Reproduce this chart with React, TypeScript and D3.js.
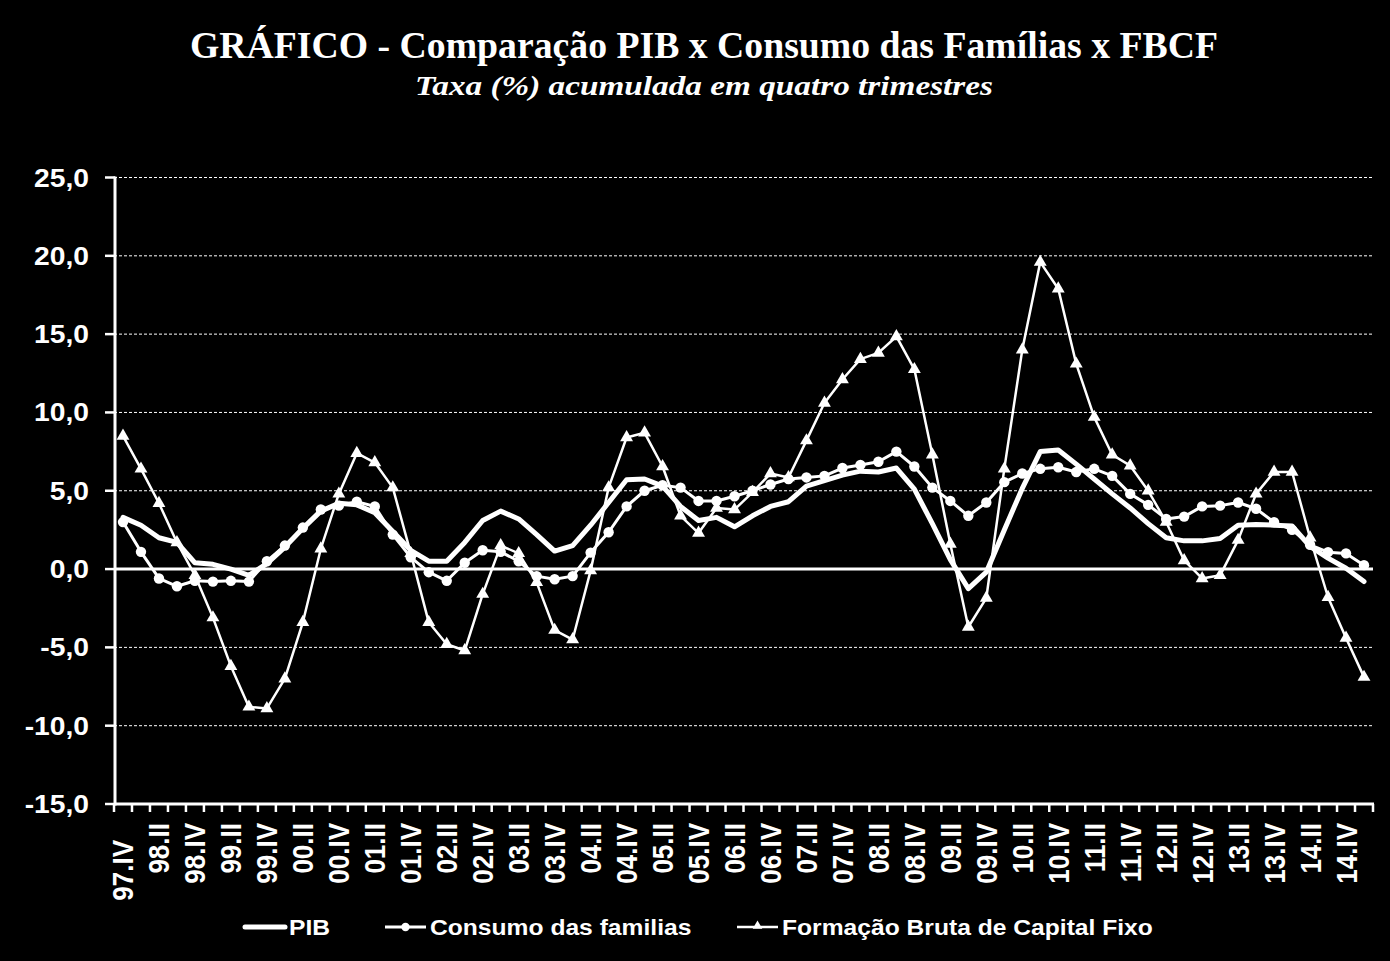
import React from 'react';
import * as d3 from 'd3';

const categories = [
  '97.IV',
  '98.I', '98.II', '98.III', '98.IV',
  '99.I', '99.II', '99.III', '99.IV',
  '00.I', '00.II', '00.III', '00.IV',
  '01.I', '01.II', '01.III', '01.IV',
  '02.I', '02.II', '02.III', '02.IV',
  '03.I', '03.II', '03.III', '03.IV',
  '04.I', '04.II', '04.III', '04.IV',
  '05.I', '05.II', '05.III', '05.IV',
  '06.I', '06.II', '06.III', '06.IV',
  '07.I', '07.II', '07.III', '07.IV',
  '08.I', '08.II', '08.III', '08.IV',
  '09.I', '09.II', '09.III', '09.IV',
  '10.I', '10.II', '10.III', '10.IV',
  '11.I', '11.II', '11.III', '11.IV',
  '12.I', '12.II', '12.III', '12.IV',
  '13.I', '13.II', '13.III', '13.IV',
  '14.I', '14.II', '14.III', '14.IV',
  '15.I',
];

const pib = [
  3.3,
  2.8, 2.0, 1.7, 0.4,
  0.3, 0.0, -0.4, 0.35,
  1.4, 2.6, 3.7, 4.2,
  4.1, 3.6, 2.4, 1.2,
  0.5, 0.5, 1.7, 3.1,
  3.7, 3.2, 2.2, 1.15,
  1.5, 2.8, 4.25, 5.7,
  5.75, 5.3, 4.0, 3.1,
  3.3, 2.7, 3.4, 4.0,
  4.3, 5.3, 5.65, 6.0,
  6.25, 6.2, 6.45, 5.1,
  2.9, 0.6, -1.25, -0.2,
  2.5, 5.15, 7.5, 7.6,
  6.7, 5.75, 4.8, 3.9,
  2.9, 2.0, 1.8, 1.8,
  1.95, 2.8, 2.85, 2.8,
  2.75, 1.45, 0.7, 0.05,
  -0.8,
];

const consumo = [
  3.0,
  1.1, -0.6, -1.1, -0.75,
  -0.8, -0.75, -0.8, 0.5,
  1.5, 2.65, 3.8, 4.05,
  4.3, 4.0, 2.2, 0.75,
  -0.2, -0.75, 0.4, 1.2,
  1.1, 0.5, -0.45, -0.65,
  -0.45, 1.05, 2.35, 4.0,
  5.0, 5.35, 5.2, 4.35,
  4.35, 4.65, 5.0, 5.4,
  5.75, 5.85, 5.95, 6.45,
  6.65, 6.85, 7.5, 6.55,
  5.2, 4.35, 3.4, 4.25,
  5.55, 6.1, 6.4, 6.5,
  6.2, 6.4, 5.95, 4.8,
  4.1, 3.2, 3.35, 4.0,
  4.05, 4.25, 3.85, 3.0,
  2.5, 1.55, 1.08, 1.0,
  0.25,
];

const fbcf = [
  8.5,
  6.4, 4.2, 1.7, -0.4,
  -3.1, -6.2, -8.8, -8.9,
  -7.0, -3.4, 1.3, 4.8,
  7.4, 6.8, 5.2, 1.0,
  -3.4, -4.8, -5.2, -1.6,
  1.5, 1.0, -0.85, -3.9,
  -4.5, -0.1, 5.2, 8.4,
  8.7, 6.55, 3.4, 2.3,
  3.9, 3.8, 4.9, 6.1,
  5.85, 8.2, 10.6, 12.1,
  13.4, 13.8, 14.85, 12.75,
  7.3, 1.6, -3.7, -1.85,
  6.4, 14.0, 19.6, 17.9,
  13.1, 9.7, 7.3, 6.6,
  5.0, 3.0, 0.55, -0.6,
  -0.4, 1.85, 4.8, 6.2,
  6.2, 2.0, -1.8, -4.4,
  -6.9,
];

const yTicks = [25, 20, 15, 10, 5, 0, -5, -10, -15];

const title = 'GRÁFICO - Comparação PIB x Consumo das Famílias x FBCF';
const subtitle = 'Taxa (%) acumulada em quatro trimestres';
const legendLabels = ['PIB', 'Consumo das familias', 'Formação Bruta de Capital Fixo'];

const W = 1390;
const H = 961;
const SANS = 'Arial, "Liberation Sans", sans-serif';
const SERIF = '"Times New Roman", "Liberation Serif", serif';

const locale = d3.formatLocale({
  decimal: ',',
  thousands: '.',
  grouping: [3],
  currency: ['R$', ''],
  minus: '-',
});
const fmt = locale.format('.1f');

export default function App() {
  const x = d3.scaleBand<string>().domain(categories).range([114, 1373]).paddingInner(0).paddingOuter(0);
  const y = d3.scaleLinear().domain([-15, 25]).range([804, 177.5]);
  const cx = (i: number) => (x(categories[i]) as number) + x.bandwidth() / 2;

  const line = d3
    .line<number>()
    .x((_, i) => cx(i))
    .y((d) => y(d));

  const tri = d3.symbol().type(d3.symbolTriangle).size(72)() as string;
  const triSmall = d3.symbol().type(d3.symbolTriangle).size(40)() as string;

  const boundaries = d3.range(categories.length + 1).map((k) => 114 + k * x.bandwidth());

  const legendY = 927;

  return (
    <svg
      width={W}
      height={H}
      viewBox={`0 0 ${W} ${H}`}
      style={{ position: 'absolute', left: 0, top: 0, display: 'block' }}
    >
      <rect x={0} y={0} width={W} height={H} fill="#000" />

      {/* Title */}
      <text
        x={704}
        y={58}
        textAnchor="middle"
        fill="#fff"
        fontFamily={SERIF}
        fontWeight="bold"
        fontSize={37}
        textLength={1028}
        lengthAdjust="spacingAndGlyphs"
      >
        {title}
      </text>
      <text
        x={704}
        y={95}
        textAnchor="middle"
        fill="#fff"
        fontFamily={SERIF}
        fontWeight="bold"
        fontStyle="italic"
        fontSize={28}
        textLength={578}
        lengthAdjust="spacingAndGlyphs"
      >
        {subtitle}
      </text>

      {/* Gridlines */}
      {yTicks
        .filter((t) => t !== -15 && t !== 0)
        .map((t) => (
          <line
            key={'g' + t}
            x1={114}
            x2={1373}
            y1={y(t)}
            y2={y(t)}
            stroke="#fff"
            strokeWidth={1}
            strokeDasharray="3 2"
          />
        ))}
      {/* zero line */}
      <line x1={114} x2={1373} y1={y(0)} y2={y(0)} stroke="#fff" strokeWidth={3} />

      {/* Y axis */}
      <line x1={115} x2={115} y1={y(25) - 1} y2={y(-15) + 1.5} stroke="#fff" strokeWidth={3} />
      {yTicks.map((t) => (
        <g key={'yt' + t}>
          <line x1={105} x2={115} y1={y(t)} y2={y(t)} stroke="#fff" strokeWidth={2.5} />
          <text
            transform={`translate(89,${y(t)}) scale(1.13,1)`}
            textAnchor="end"
            dy="0.36em"
            fill="#fff"
            fontFamily={SANS}
            fontWeight="bold"
            fontSize={25}
          >
            {fmt(t)}
          </text>
        </g>
      ))}

      {/* X axis */}
      <line x1={114} x2={1374} y1={y(-15)} y2={y(-15)} stroke="#fff" strokeWidth={3} />
      {boundaries.map((bx, k) => (
        <line key={'xt' + k} x1={bx} x2={bx} y1={y(-15)} y2={y(-15) + 8} stroke="#fff" strokeWidth={2.5} />
      ))}
      {categories.map((c, i) =>
        i % 2 === 0 ? (
          <text
            key={'xl' + c}
            transform={`translate(${cx(i)},${i === 0 ? 840 : 823}) scale(1.12,1) rotate(-90)`}
            textAnchor="end"
            dy="0.36em"
            fill="#fff"
            fontFamily={SANS}
            fontWeight="bold"
            fontSize={26}
          >
            {c}
          </text>
        ) : null
      )}

      {/* Series */}
      <path d={line(fbcf) as string} fill="none" stroke="#fff" strokeWidth={2.5} strokeLinejoin="round" />
      {fbcf.map((v, i) => (
        <path key={'tr' + i} d={tri} transform={`translate(${cx(i)},${y(v)})`} fill="#fff" />
      ))}

      <path d={line(consumo) as string} fill="none" stroke="#fff" strokeWidth={3} strokeLinejoin="round" />
      {consumo.map((v, i) => (
        <circle key={'c' + i} cx={cx(i)} cy={y(v)} r={5.2} fill="#fff" />
      ))}

      <path d={line(pib) as string} fill="none" stroke="#fff" strokeWidth={5} strokeLinejoin="round" strokeLinecap="round" />

      {/* Legend */}
      <g>
        <line x1={245} x2={285} y1={legendY} y2={legendY} stroke="#fff" strokeWidth={5} strokeLinecap="round" />
        <text
          transform={`translate(289,${legendY}) scale(1.12,1)`}
          dy="0.36em"
          fill="#fff"
          fontFamily={SANS}
          fontWeight="bold"
          fontSize={22}
        >
          {legendLabels[0]}
        </text>

        <line x1={385} x2={426} y1={legendY} y2={legendY} stroke="#fff" strokeWidth={3} />
        <circle cx={405.5} cy={legendY} r={4.2} fill="#fff" />
        <text
          transform={`translate(430,${legendY}) scale(1.12,1)`}
          dy="0.36em"
          fill="#fff"
          fontFamily={SANS}
          fontWeight="bold"
          fontSize={22}
        >
          {legendLabels[1]}
        </text>

        <line x1={737} x2={778} y1={legendY} y2={legendY} stroke="#fff" strokeWidth={2.5} />
        <path d={triSmall} transform={`translate(757.5,${legendY - 1})`} fill="#fff" />
        <text
          transform={`translate(782,${legendY}) scale(1.12,1)`}
          dy="0.36em"
          fill="#fff"
          fontFamily={SANS}
          fontWeight="bold"
          fontSize={22}
        >
          {legendLabels[2]}
        </text>
      </g>
    </svg>
  );
}
